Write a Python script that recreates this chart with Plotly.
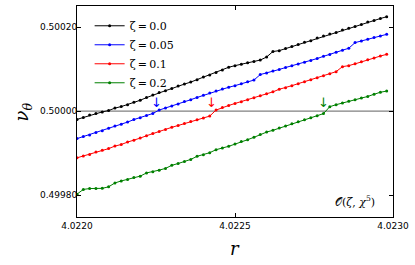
import plotly.graph_objects as go

r_start = 4.0220
r_step = 0.00002
n_pts = 50
r = [round(r_start + i * r_step, 6) for i in range(n_pts)]

labels = ["ζ\u2009=\u20090.0", "ζ\u2009=\u20090.05", "ζ\u2009=\u20090.1", "ζ\u2009=\u20090.2"]
colors = ["#000000", "#0000ff", "#ff0000", "#008000"]

nu_z000 = [0.4999802, 0.4999845, 0.4999905, 0.4999945, 0.4999981, 0.5000012, 0.5000071, 0.5000107,
           0.5000152, 0.5000210, 0.5000257, 0.5000321, 0.5000381, 0.5000440, 0.5000486, 0.5000536,
           0.5000595, 0.5000643, 0.5000690, 0.5000748, 0.5000810, 0.5000857, 0.5000917, 0.5000976,
           0.5001043, 0.5001081, 0.5001114, 0.5001148, 0.5001181, 0.5001214, 0.5001286, 0.5001417,
           0.5001438, 0.5001486, 0.5001538, 0.5001583, 0.5001636, 0.5001676, 0.5001738, 0.5001786,
           0.5001833, 0.5001871, 0.5001929, 0.5001971, 0.5002012, 0.5002062, 0.5002119, 0.5002157,
           0.5002202, 0.5002245]
nu_z005 = [0.4999345, 0.4999393, 0.4999433, 0.4999488, 0.4999533, 0.4999590, 0.4999643, 0.4999686,
           0.4999738, 0.4999798, 0.4999843, 0.4999893, 0.4999943, 0.5000024, 0.5000071, 0.5000119,
           0.5000171, 0.5000226, 0.5000271, 0.5000324, 0.5000376, 0.5000429, 0.5000476, 0.5000524,
           0.5000567, 0.5000605, 0.5000652, 0.5000695, 0.5000738, 0.5000869, 0.5000905, 0.5000952,
           0.5000990, 0.5001036, 0.5001076, 0.5001119, 0.5001162, 0.5001202, 0.5001250, 0.5001302,
           0.5001348, 0.5001400, 0.5001448, 0.5001495, 0.5001629, 0.5001667, 0.5001710, 0.5001748,
           0.5001786, 0.5001826]
nu_z010 = [0.4998888, 0.4998933, 0.4998964, 0.4999024, 0.4999067, 0.4999107, 0.4999167, 0.4999205,
           0.4999262, 0.4999305, 0.4999357, 0.4999414, 0.4999467, 0.4999512, 0.4999560, 0.4999614,
           0.4999657, 0.4999705, 0.4999750, 0.4999795, 0.4999838, 0.4999881, 0.5000024, 0.5000083,
           0.5000133, 0.5000181, 0.5000224, 0.5000271, 0.5000319, 0.5000367, 0.5000410, 0.5000457,
           0.5000519, 0.5000557, 0.5000605, 0.5000652, 0.5000698, 0.5000748, 0.5000795, 0.5000843,
           0.5000890, 0.5000938, 0.5001057, 0.5001081, 0.5001124, 0.5001176, 0.5001219, 0.5001262,
           0.5001310, 0.5001350]
nu_z020 = [0.4998024, 0.4998136, 0.4998157, 0.4998157, 0.4998162, 0.4998198, 0.4998290, 0.4998338,
           0.4998374, 0.4998419, 0.4998452, 0.4998529, 0.4998557, 0.4998595, 0.4998636, 0.4998710,
           0.4998752, 0.4998800, 0.4998850, 0.4998924, 0.4998962, 0.4999010, 0.4999081, 0.4999119,
           0.4999162, 0.4999214, 0.4999276, 0.4999319, 0.4999376, 0.4999443, 0.4999500, 0.4999543,
           0.4999595, 0.4999643, 0.4999700, 0.4999748, 0.4999795, 0.4999843, 0.4999890, 0.4999940,
           0.5000105, 0.5000152, 0.5000190, 0.5000233, 0.5000271, 0.5000310, 0.5000348, 0.5000400,
           0.5000448, 0.5000476]
series = [nu_z000, nu_z005, nu_z010, nu_z020]

# resonance crossing positions (arrows)
arrow_r = [4.02225, 4.022425, 4.02278]
arrow_colors = ["#0000ff", "#ff0000", "#008000"]
resonance_level = 0.5

x_ticks = [4.0220, 4.0225, 4.0230]
y_ticks = [0.49980, 0.50000, 0.50020]

fig = go.Figure()
for lab, col, vals in zip(labels, colors, series):
    fig.add_trace(go.Scatter(
        x=r, y=vals, mode="lines+markers", name=lab,
        line=dict(color=col, width=1),
        marker=dict(color=col, size=3),
    ))

fig.add_shape(type="line", xref="paper", yref="y", x0=0, x1=1,
              y0=resonance_level, y1=resonance_level,
              line=dict(color="#808080", width=1.3), layer="below")

for ar, ac in zip(arrow_r, arrow_colors):
    fig.add_annotation(x=ar, y=resonance_level, xref="x", yref="y",
                       xanchor="center", yanchor="bottom", yshift=-1,
                       showarrow=False, text="↓",
                       font=dict(family="DejaVu Sans", size=13, color=ac))

fig.add_annotation(x=0.949, y=0.075, xref="paper", yref="paper", xanchor="right",
                   yanchor="middle", showarrow=False,
                   text="𝒪(<i>ζ</i>, <i>χ</i><sup>5</sup>)",
                   font=dict(family="DejaVu Serif", size=11, color="#000"))

# axis titles
fig.add_annotation(x=0.5, y=-0.149, xref="paper", yref="paper", xanchor="center",
                   yanchor="middle", showarrow=False, text="<i>r</i>",
                   font=dict(family="DejaVu Serif", size=18, color="#000"))
fig.add_annotation(x=-0.171, y=0.5, xref="paper", yref="paper", xanchor="center",
                   yanchor="middle", showarrow=False, textangle=-90,
                   text="<i>ν</i><sub><i>θ</i></sub>",
                   font=dict(family="DejaVu Serif", size=18, color="#000"))

fig.update_layout(
    width=415, height=265,
    margin=dict(l=77, r=22, t=6, b=48, autoexpand=False),
    paper_bgcolor="white", plot_bgcolor="white",
    showlegend=True,
    legend=dict(x=0.04, y=0.975, xanchor="left", yanchor="top",
                bgcolor="rgba(0,0,0,0)", borderwidth=0,
                font=dict(family="DejaVu Serif", size=11, color="#000"),
                itemwidth=30, tracegroupgap=0),
    font=dict(family="DejaVu Sans", size=9, color="#000"),
)
fig.update_xaxes(range=[4.0220, 4.0230], tickvals=x_ticks, tickformat=".4f",
                 ticks="inside", ticklen=4, tickcolor="#000", mirror="ticks",
                 showline=True, linecolor="#000", linewidth=1, showgrid=False,
                 zeroline=False, automargin=False)
fig.update_yaxes(range=[0.499748, 0.500250], tickvals=y_ticks, tickformat=".5f",
                 ticks="inside", ticklen=4, tickcolor="#000", mirror="ticks",
                 showline=True, linecolor="#000", linewidth=1, showgrid=False,
                 zeroline=False, automargin=False, ticklabelstandoff=-3)

fig.write_html("out.html", config={"displayModeBar": False},
               post_script="document.body.style.margin='0px';")
